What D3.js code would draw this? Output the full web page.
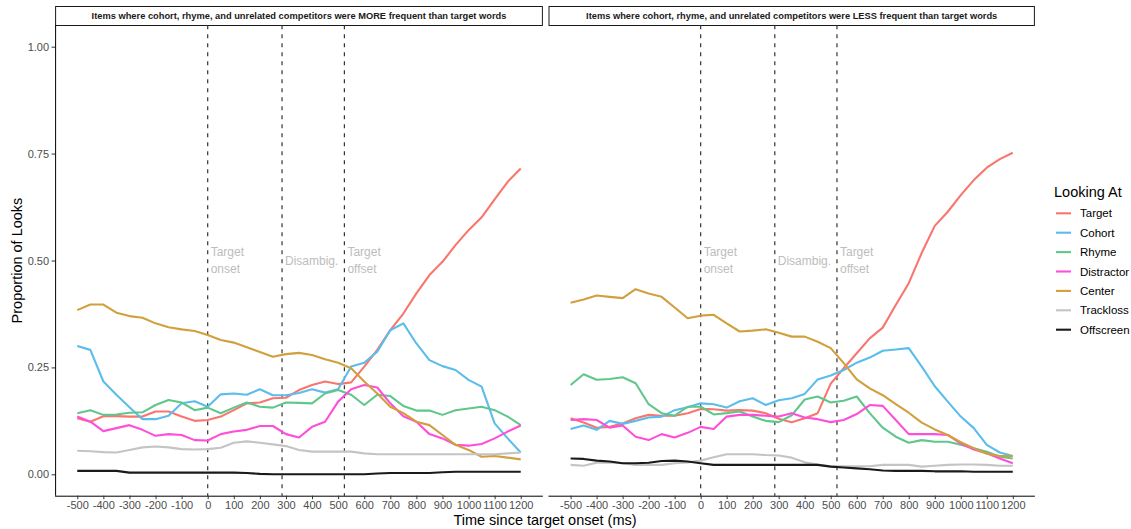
<!DOCTYPE html>
<html>
<head>
<meta charset="utf-8">
<script src="https://cdn.jsdelivr.net/npm/d3@7"></script>
<style>
  html, body { margin: 0; padding: 0; background: #fff; }
  svg { display: block; font-family: "Liberation Sans", Arial, Helvetica, sans-serif; }
</style>
</head>
<body>
<svg id="chart" width="1131" height="529"></svg>
<script>
// ---------------- DATA ----------------
const times = d3.range(-500, 1201, 50);
const xTickValues = d3.range(-500, 1201, 100);
const yTickValues = [0, 0.25, 0.5, 0.75, 1.0];
const seriesNames = ["Target", "Cohort", "Rhyme", "Distractor", "Center", "Trackloss", "Offscreen"];
const panelTitles = [
  "Items where cohort, rhyme, and unrelated competitors were MORE frequent than target words",
  "Items where cohort, rhyme, and unrelated competitors were LESS frequent than target words"
];
const markerTimes = [0, 285, 524];
const markerLabels = [["Target", "onset"], ["Disambig."], ["Target", "offset"]];

// Panel 1: MORE frequent
const moreTarget = [0.131,0.123,0.136,0.136,0.135,0.135,0.147,0.147,0.135,0.125,0.127,0.135,0.150,0.166,0.168,0.178,0.179,0.197,
  0.209,0.217,0.211,0.215,0.252,0.291,0.337,0.376,0.423,0.466,0.497,0.536,0.571,0.601,0.643,0.684,0.715];
const moreCohort = [0.300,0.291,0.217,0.186,0.157,0.129,0.129,0.137,0.166,0.171,0.158,0.187,0.189,0.186,0.199,0.185,0.185,0.190,
  0.199,0.191,0.199,0.252,0.261,0.287,0.337,0.353,0.306,0.267,0.253,0.244,0.221,0.205,0.119,0.084,0.051];
const moreRhyme = [0.143,0.150,0.139,0.140,0.144,0.145,0.162,0.174,0.168,0.150,0.156,0.143,0.156,0.168,0.158,0.156,0.168,0.167,
  0.166,0.189,0.197,0.186,0.162,0.186,0.183,0.160,0.149,0.149,0.139,0.150,0.154,0.158,0.150,0.135,0.115];
const moreDistractor = [0.135,0.123,0.101,0.108,0.115,0.104,0.090,0.094,0.092,0.080,0.079,0.094,0.100,0.104,0.113,0.113,0.094,0.086,
  0.111,0.123,0.170,0.199,0.209,0.203,0.166,0.136,0.123,0.094,0.084,0.069,0.067,0.071,0.084,0.100,0.114];
const moreCenter = [0.384,0.397,0.397,0.378,0.370,0.366,0.353,0.344,0.339,0.335,0.326,0.314,0.308,0.297,0.286,0.275,0.281,0.284,
  0.279,0.269,0.261,0.248,0.217,0.189,0.158,0.143,0.123,0.115,0.092,0.069,0.057,0.041,0.043,0.039,0.035];
const moreTrackloss = [0.055,0.054,0.052,0.051,0.057,0.063,0.065,0.063,0.059,0.058,0.059,0.062,0.074,0.077,0.074,0.070,0.066,0.057,
  0.053,0.053,0.053,0.053,0.049,0.047,0.047,0.047,0.047,0.047,0.047,0.047,0.047,0.047,0.047,0.049,0.051];
const moreOffscreen = [0.008,0.008,0.008,0.008,0.004,0.004,0.004,0.004,0.004,0.004,0.004,0.004,0.004,0.003,0.001,0.000,0.000,0.000,
  0.000,0.000,0.000,0.000,0.000,0.002,0.003,0.003,0.003,0.003,0.005,0.006,0.006,0.006,0.006,0.006,0.006];

// Panel 2: LESS frequent
const lessTarget = [0.131,0.121,0.109,0.111,0.119,0.131,0.139,0.137,0.137,0.143,0.153,0.152,0.149,0.150,0.149,0.143,0.130,0.122,
  0.131,0.143,0.212,0.248,0.283,0.318,0.343,0.396,0.447,0.518,0.581,0.614,0.653,0.688,0.717,0.737,0.752];
const lessCohort = [0.106,0.114,0.104,0.125,0.118,0.125,0.133,0.135,0.150,0.157,0.166,0.164,0.156,0.171,0.178,0.162,0.173,0.178,
  0.188,0.222,0.231,0.244,0.261,0.273,0.289,0.292,0.295,0.252,0.206,0.170,0.135,0.108,0.069,0.051,0.043];
const lessRhyme = [0.209,0.234,0.221,0.223,0.227,0.213,0.164,0.143,0.137,0.158,0.158,0.140,0.143,0.147,0.135,0.125,0.122,0.138,
  0.175,0.182,0.168,0.172,0.182,0.143,0.109,0.088,0.074,0.080,0.076,0.076,0.069,0.061,0.053,0.041,0.037];
const lessDistractor = [0.127,0.129,0.127,0.109,0.114,0.088,0.080,0.094,0.086,0.097,0.111,0.106,0.135,0.139,0.139,0.137,0.135,0.143,
  0.133,0.129,0.122,0.127,0.141,0.162,0.160,0.127,0.094,0.094,0.094,0.092,0.072,0.058,0.049,0.037,0.026];
const lessCenter = [0.401,0.409,0.418,0.415,0.412,0.433,0.423,0.415,0.390,0.365,0.371,0.373,0.353,0.334,0.336,0.339,0.331,0.322,
  0.322,0.310,0.295,0.260,0.222,0.201,0.185,0.164,0.144,0.121,0.105,0.092,0.075,0.061,0.048,0.043,0.043];
const lessTrackloss = [0.022,0.020,0.027,0.028,0.026,0.022,0.022,0.022,0.026,0.028,0.032,0.040,0.047,0.047,0.047,0.045,0.044,0.039,
  0.028,0.023,0.019,0.019,0.019,0.019,0.022,0.022,0.022,0.018,0.020,0.022,0.023,0.023,0.022,0.020,0.020];
const lessOffscreen = [0.037,0.036,0.032,0.030,0.026,0.026,0.027,0.031,0.032,0.030,0.026,0.022,0.022,0.022,0.022,0.022,0.022,0.022,
  0.022,0.022,0.018,0.016,0.014,0.012,0.009,0.008,0.008,0.008,0.007,0.007,0.007,0.006,0.006,0.006,0.006];

const panelData = [
  [moreTarget, moreCohort, moreRhyme, moreDistractor, moreCenter, moreTrackloss, moreOffscreen],
  [lessTarget, lessCohort, lessRhyme, lessDistractor, lessCenter, lessTrackloss, lessOffscreen]
];

// ---------------- STYLE / LAYOUT ----------------
const colors = ["#F8766D", "#5BBDEB", "#60C78C", "#FF4FD8", "#D1A03C", "#C4C4C4", "#1A1A1A"];
const panelTop = 25.3, panelBottom = 495.7;
const panels = [{ x0: 55.1, x1: 542.9 }, { x0: 548.5, x1: 1034.9 }];

const svg = d3.select("#chart");
const y = d3.scaleLinear().domain([-0.05, 1.05]).range([panelBottom, panelTop]);
const colorScale = d3.scaleOrdinal().domain(seriesNames).range(colors);

panels.forEach((p, pi) => {
  const x = d3.scaleLinear().domain([-585, 1285]).range([p.x0, p.x1]);
  const g = svg.append("g");

  // strip
  g.append("rect")
    .attr("x", p.x0 + 0.5).attr("y", 6.5)
    .attr("width", p.x1 - p.x0 - 1).attr("height", 19)
    .attr("fill", "#fff").attr("stroke", "#1a1a1a").attr("stroke-width", 1);
  g.append("text")
    .attr("x", (p.x0 + p.x1) / 2).attr("y", 16.3)
    .attr("text-anchor", "middle").attr("dominant-baseline", "central")
    .attr("font-size", "9.3px").attr("font-weight", "bold").attr("fill", "#1a1a1a")
    .text(panelTitles[pi]);

  // dashed markers
  markerTimes.forEach((t, i) => {
    g.append("line")
      .attr("x1", x(t)).attr("x2", x(t))
      .attr("y1", panelTop).attr("y2", panelBottom)
      .attr("stroke", "#333").attr("stroke-width", 1.2)
      .attr("stroke-dasharray", "4,5");
    const lines = markerLabels[i];
    const lh = 16.5;
    const cy = y(0.5);
    lines.forEach((txt, k) => {
      g.append("text")
        .attr("x", x(t) + 3)
        .attr("y", cy + (k - (lines.length - 1) / 2) * lh)
        .attr("dominant-baseline", "central")
        .attr("font-size", "12px").attr("fill", "#BDBDBD")
        .text(txt);
    });
  });

  // lines
  const lineGen = d3.line().x((d, i) => x(times[i])).y(d => y(d));
  panelData[pi].forEach((vals, si) => {
    g.append("path")
      .datum(vals)
      .attr("d", lineGen)
      .attr("fill", "none")
      .attr("stroke", colorScale(seriesNames[si]))
      .attr("stroke-width", 2.1)
      .attr("stroke-linejoin", "round");
  });

  // x axis
  const xAxis = d3.axisBottom(x).tickValues(xTickValues).tickSize(3.5).tickPadding(2.5).tickFormat(d3.format("d"));
  const xg = g.append("g").attr("transform", `translate(0,${panelBottom})`).call(xAxis);
  xg.select(".domain").attr("d", `M${p.x0},0.5H${p.x1}`).attr("stroke", "#000").attr("stroke-width", 1);
  xg.selectAll(".tick line").attr("stroke", "#333");
  xg.selectAll(".tick text").attr("font-size", "11px").attr("fill", "#4D4D4D")
    .attr("font-family", "Liberation Sans, Arial, sans-serif")
    .text(d => d < 0 ? "-" + Math.abs(d) : d);

  if (pi === 0) {
    const yAxis = d3.axisLeft(y).tickValues(yTickValues).tickSize(3.5).tickPadding(2.5).tickFormat(d3.format(".2f"));
    const yg = g.append("g").attr("transform", `translate(${p.x0},0)`).call(yAxis);
    yg.select(".domain").attr("d", `M0.5,${panelTop}V${panelBottom}`).attr("stroke", "#000").attr("stroke-width", 1);
    yg.selectAll(".tick line").attr("stroke", "#333");
    yg.selectAll(".tick text").attr("font-size", "11px").attr("fill", "#4D4D4D")
      .attr("font-family", "Liberation Sans, Arial, sans-serif");
  }
});

// axis titles
svg.append("text")
  .attr("x", (panels[0].x0 + panels[1].x1) / 2).attr("y", 520)
  .attr("text-anchor", "middle").attr("dominant-baseline", "central")
  .attr("font-size", "14.5px").attr("fill", "#000")
  .text("Time since target onset (ms)");
svg.append("text")
  .attr("transform", `translate(17,${(panelTop + panelBottom) / 2}) rotate(-90)`)
  .attr("text-anchor", "middle").attr("dominant-baseline", "central")
  .attr("font-size", "14.5px").attr("fill", "#000")
  .text("Proportion of Looks");

// legend
const lg = svg.append("g");
lg.append("text")
  .attr("x", 1054).attr("y", 191.7)
  .attr("dominant-baseline", "central")
  .attr("font-size", "14.5px").attr("fill", "#000")
  .text("Looking At");
seriesNames.forEach((name, i) => {
  const cy = 213.3 + i * 19.4;
  lg.append("line")
    .attr("x1", 1056).attr("x2", 1071)
    .attr("y1", cy).attr("y2", cy)
    .attr("stroke", colorScale(name)).attr("stroke-width", 2.1);
  lg.append("text")
    .attr("x", 1080).attr("y", cy)
    .attr("dominant-baseline", "central")
    .attr("font-size", "11.5px").attr("fill", "#000")
    .text(name);
});
</script>
</body>
</html>
